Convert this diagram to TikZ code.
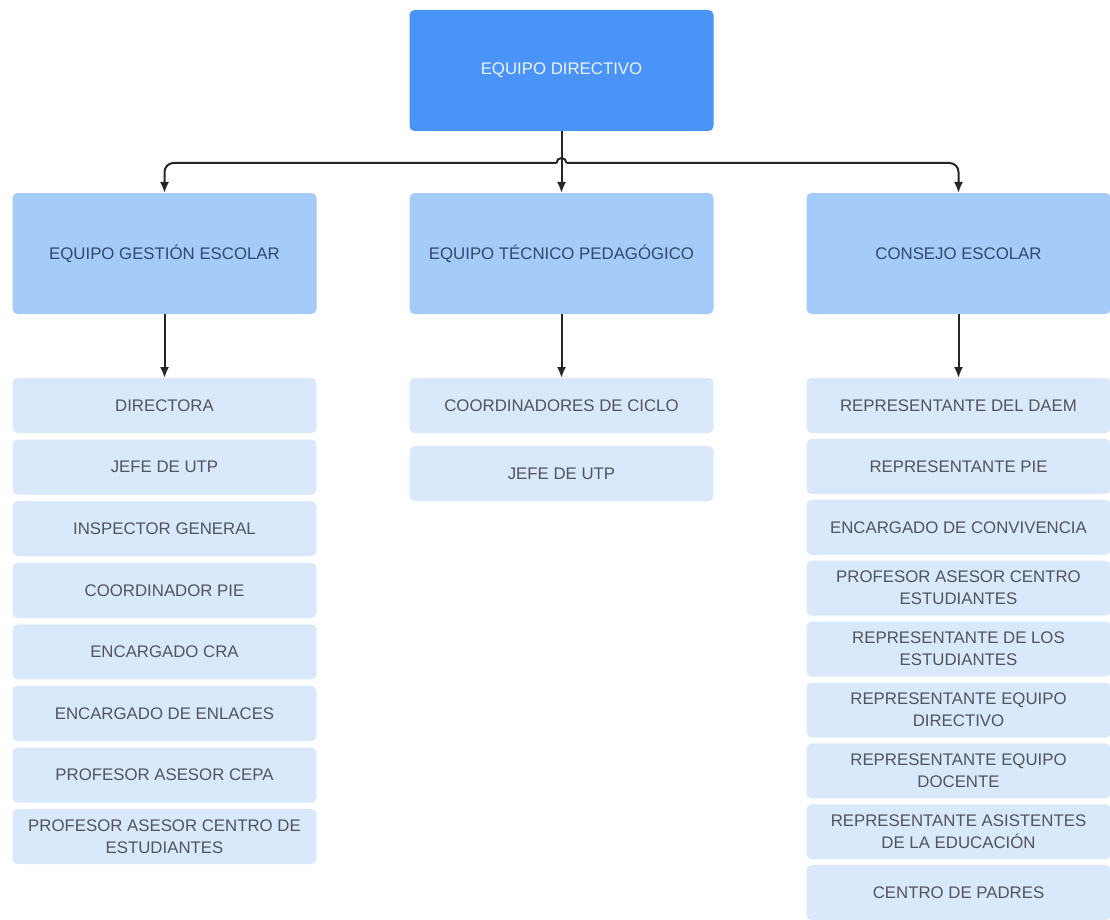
\documentclass[tikz,border=0pt]{standalone}
\usepackage{fontspec}
\setmainfont{Liberation Sans}
\usetikzlibrary{arrows.meta,positioning}
\definecolor{dirblue}{HTML}{4A94F7}
\definecolor{dirtext}{HTML}{EAF2FF}
\definecolor{teamblue}{HTML}{A4CBF9}
\definecolor{teamtext}{HTML}{2F4A6A}
\definecolor{itemblue}{HTML}{D9E8FB}
\definecolor{itemtext}{HTML}{50555E}
\tikzset{
  head/.style={fill=dirblue, text=dirtext, rounded corners=5pt, minimum width=304pt, minimum height=121pt, inner sep=0pt, outer sep=0pt, align=center, font=\fontsize{16.8}{20}\selectfont},
  team/.style={fill=teamblue, text=teamtext, rounded corners=5pt, minimum width=304pt, minimum height=121pt, inner sep=0pt, outer sep=0pt, align=center, font=\fontsize{16.8}{20}\selectfont},
  entry/.style={fill=itemblue, text=itemtext, rounded corners=5pt, minimum width=304pt, minimum height=55pt, inner sep=0pt, outer sep=0pt, align=center, font=\fontsize{16.8}{22}\selectfont},
  link/.style={-{Latex[length=11pt,width=9pt]}, line width=2pt, draw=black!85},
  bus/.style={link, rounded corners=9pt}
}

\begin{document}
\begin{tikzpicture}[x=1pt, y=1pt]
  \useasboundingbox (0,0) rectangle (1110,-920);
  \node[head] (dir) at (561.5,-70.5) {EQUIPO DIRECTIVO};

  \node[team, below=62pt of dir] (tecnico) {EQUIPO TÉCNICO PEDAGÓGICO};
  \node[team, left=93pt of tecnico] (gestion) {EQUIPO GESTIÓN ESCOLAR};
  \node[team, right=93pt of tecnico] (consejo) {CONSEJO ESCOLAR};

  % equipo gestion escolar
  \node[entry, below=64pt of gestion] (g1) {DIRECTORA};
  \node[entry, below=6.6pt of g1] (g2) {JEFE DE UTP};
  \node[entry, below=6.6pt of g2] (g3) {INSPECTOR GENERAL};
  \node[entry, below=6.6pt of g3] (g4) {COORDINADOR PIE};
  \node[entry, below=6.6pt of g4] (g5) {ENCARGADO CRA};
  \node[entry, below=6.6pt of g5] (g6) {ENCARGADO DE ENLACES};
  \node[entry, below=6.6pt of g6] (g7) {PROFESOR ASESOR CEPA};
  \node[entry, below=6.6pt of g7] (g8) {PROFESOR ASESOR CENTRO DE\\ESTUDIANTES};

  % equipo tecnico pedagogico
  \node[entry, below=64pt of tecnico] (t1) {COORDINADORES DE CICLO};
  \node[entry, below=13pt of t1] (t2) {JEFE DE UTP};

  % consejo escolar
  \node[entry, below=64pt of consejo] (c1) {REPRESENTANTE DEL DAEM};
  \node[entry, below=5.9pt of c1] (c2) {REPRESENTANTE PIE};
  \node[entry, below=5.9pt of c2] (c3) {ENCARGADO DE CONVIVENCIA};
  \node[entry, below=5.9pt of c3] (c4) {PROFESOR ASESOR CENTRO\\ESTUDIANTES};
  \node[entry, below=5.9pt of c4] (c5) {REPRESENTANTE DE LOS\\ESTUDIANTES};
  \node[entry, below=5.9pt of c5] (c6) {REPRESENTANTE EQUIPO\\DIRECTIVO};
  \node[entry, below=5.9pt of c6] (c7) {REPRESENTANTE EQUIPO\\DOCENTE};
  \node[entry, below=5.9pt of c7] (c8) {REPRESENTANTE ASISTENTES\\DE LA EDUCACIÓN};
  \node[entry, below=5.9pt of c8] (c9) {CENTRO DE PADRES};

  \coordinate (hopL) at ([xshift=-5pt]dir.south |- 0,-163);
  \coordinate (hopR) at ([xshift=5pt]dir.south |- 0,-163);
  \draw[link] (dir.south) -- (tecnico.north);
  \draw[bus] (hopL) -| (gestion.north);
  \draw[bus] (hopR) -| (consejo.north);
  \draw[link, -] (hopL) arc[start angle=180, end angle=0, radius=5pt];
  \draw[link] (gestion) -- (g1);
  \draw[link] (tecnico) -- (t1);
  \draw[link] (consejo) -- (c1);
\end{tikzpicture}
\end{document}
